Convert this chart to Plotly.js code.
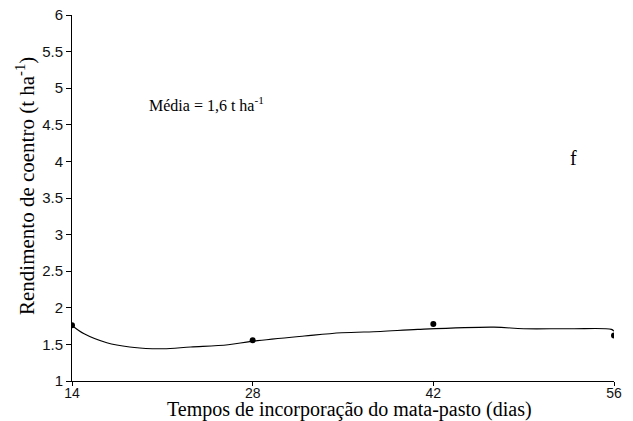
<!DOCTYPE html>
<html><head><meta charset="utf-8">
<script src="https://cdn.plot.ly/plotly-3.0.1.min.js"></script>
<style>html,body{margin:0;padding:0;background:#fff}</style>
</head><body>
<div id="chart" style="width:633px;height:421px"></div>
<script>
// Observed means
const days = [14, 28, 42, 56];
const yieldObs = [1.76, 1.555, 1.78, 1.62];
// Fitted curve
const curveX = [14, 14.94, 16.7, 18.47, 20.23, 21.1, 23.2, 26.1, 27.9, 32.0, 34.9, 37.9, 40.8, 46.7, 49.0, 52.6, 55.8, 56];
const curveY = [1.759, 1.645, 1.523, 1.464, 1.441, 1.441, 1.464, 1.495, 1.541, 1.614, 1.659, 1.677, 1.705, 1.736, 1.714, 1.714, 1.705, 1.68];
const xTicks = [14, 28, 42, 56];
const yTicks = [1, 1.5, 2, 2.5, 3, 3.5, 4, 4.5, 5, 5.5, 6];
const xTitle = 'Tempos de incorporação do mata-pasto (dias)';
const yTitle = 'Rendimento de coentro (t ha<sup>-1</sup>)';
const meanText = 'Média = 1,6 t ha<sup>-1</sup>';
const panelLetter = 'f';

const traces = [
  {x: curveX, y: curveY, mode: 'lines', line: {color: '#000', width: 1.1, shape: 'spline', smoothing: 1}, hoverinfo: 'skip'},
  {x: days, y: yieldObs, mode: 'markers', marker: {color: '#000', size: 6}}
];
const tickFont = {family: 'Liberation Sans, Arial, sans-serif', size: 14, color: '#111'};
const serif = 'Liberation Serif, Times New Roman, serif';
const layout = {
  width: 633, height: 421,
  margin: {l: 72, r: 19, t: 15, b: 40},
  paper_bgcolor: '#fff', plot_bgcolor: '#fff',
  showlegend: false,
  xaxis: {
    range: [14, 56], tickvals: xTicks, ticktext: xTicks.map(String),
    showgrid: false, zeroline: false, showline: true, linecolor: '#000', linewidth: 1,
    ticks: 'outside', ticklen: 4, tickcolor: '#000', tickfont: tickFont, ticklabelstandoff: -5
  },
  yaxis: {
    range: [1, 6], tickvals: yTicks, ticktext: yTicks.map(String),
    showgrid: false, zeroline: false, showline: true, linecolor: '#000', linewidth: 1,
    ticks: 'outside', ticklen: 5, tickcolor: '#000', tickfont: {family: tickFont.family, size: 15, color: '#111'}
  },
  annotations: [
    {xref: 'paper', yref: 'paper', x: (349 - 72) / 542, y: (381 - 409) / 366, xanchor: 'center', yanchor: 'middle', showarrow: false,
     text: xTitle, font: {family: serif, size: 20, color: '#000'}},
    {xref: 'paper', yref: 'paper', x: (25 - 72) / 542, y: (381 - 186) / 366, xanchor: 'center', yanchor: 'middle', showarrow: false,
     textangle: -90, text: yTitle, font: {family: serif, size: 21, color: '#000'}},
    {xref: 'paper', yref: 'paper', x: (147 - 72) / 542, y: (381 - 104) / 366, xanchor: 'left', yanchor: 'middle', showarrow: false,
     text: meanText, font: {family: serif, size: 16, color: '#000'}},
    {xref: 'paper', yref: 'paper', x: (573 - 72) / 542, y: (381 - 158) / 366, xanchor: 'center', yanchor: 'middle', showarrow: false,
     text: panelLetter, font: {family: serif, size: 20, color: '#000'}}
  ]
};
Plotly.newPlot('chart', traces, layout, {displayModeBar: false, staticPlot: true});
</script>
</body></html>
